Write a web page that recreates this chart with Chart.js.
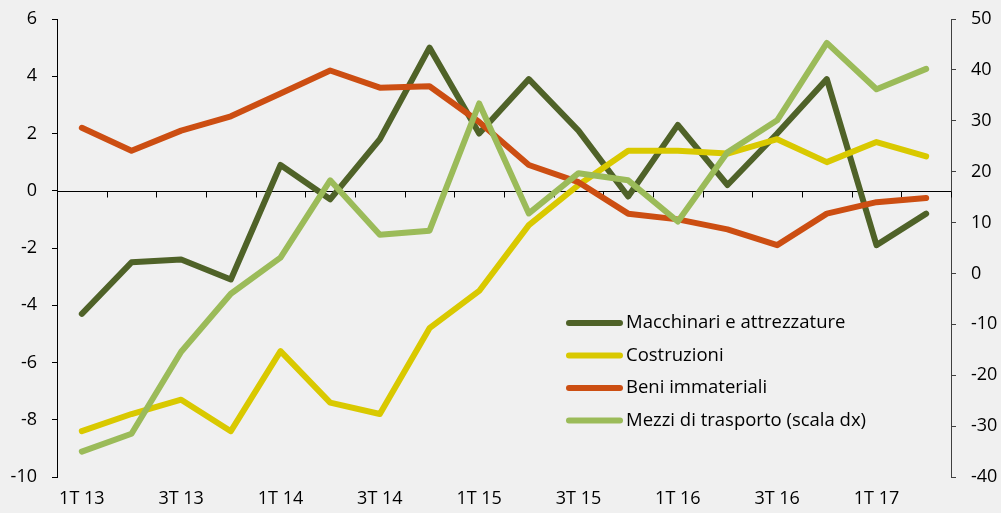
<!DOCTYPE html>
<html>
<head>
<meta charset="utf-8">
<script src="https://cdn.jsdelivr.net/npm/chart.js@4"></script>
<style>
  html, body { margin: 0; padding: 0; background: #f0f0f0; }
  #wrap { width: 1001px; height: 513px; position: relative; }
</style>
</head>
<body>
<div id="wrap"><canvas id="myChart"></canvas></div>
<script>
"use strict";

const labels = ['1T 13','2T 13','3T 13','4T 13','1T 14','2T 14','3T 14','4T 14',
  '1T 15','2T 15','3T 15','4T 15','1T 16','2T 16','3T 16','4T 16','1T 17','2T 17'];

const macchinari = [-4.3, -2.5, -2.4, -3.1, 0.9, -0.3, 1.8, 5.0, 2.0, 3.9, 2.1, -0.2, 2.3, 0.2, 2.0, 3.9, -1.9, -0.8];
const costruzioni = [-8.4, -7.8, -7.3, -8.4, -5.6, -7.4, -7.8, -4.8, -3.5, -1.2, 0.2, 1.4, 1.4, 1.3, 1.8, 1.0, 1.7, 1.2];
const beni = [2.2, 1.4, 2.1, 2.6, 3.4, 4.2, 3.6, 3.65, 2.4, 0.9, 0.3, -0.8, -1.0, -1.35, -1.9, -0.8, -0.4, -0.25];
// right axis
const mezzi = [-35, -31.5, -15.4, -4, 3.1, 18.3, 7.6, 8.4, 33.4, 11.8, 19.7, 18.3, 10.2, 23.8, 30.1, 45.3, 36.2, 40.2];

const FONT = '"Open Sans", Lato, sans-serif';

const ctx = document.getElementById('myChart');

// zero line with the little category ticks, drawn under the lines
const zeroLine = {
  id: 'zeroLine',
  beforeDatasetsDraw(chart) {
    const c = chart.ctx;
    const x = chart.scales.x;
    const y = chart.scales.y;
    const area = chart.chartArea;
    const y0 = Math.round(y.getPixelForValue(0)) + 0.5;
    c.save();
    c.strokeStyle = '#000';
    c.lineWidth = 1;
    c.beginPath();
    c.moveTo(area.left, y0);
    c.lineTo(area.right, y0);
    const step = x.getPixelForValue(1) - x.getPixelForValue(0);
    for (let i = 0; i <= labels.length; i++) {
      const px = Math.round(x.getPixelForValue(i) - step / 2) + 0.5;
      c.moveTo(px, y0);
      c.lineTo(px, y0 + 6);
    }
    c.stroke();
    c.restore();
  }
};

// legend inside the plot
const boxLegend = {
  id: 'boxLegend',
  afterDraw(chart) {
    const c = chart.ctx;
    const sets = chart.data.datasets;
    c.save();
    c.font = '18.5px ' + FONT;
    c.textBaseline = 'middle';
    c.fillStyle = '#000';
    c.lineCap = 'round';
    c.lineWidth = 6;
    sets.forEach((ds, i) => {
      const yy = 323 + i * 32.5;
      c.strokeStyle = ds.borderColor;
      c.beginPath();
      c.moveTo(569, yy);
      c.lineTo(620, yy);
      c.stroke();
      c.fillText(ds.label, 626, yy);
    });
    c.restore();
  }
};

// no extra room for half labels, keep the plot box fixed
const noPad = (s) => { s.paddingTop = 0; s.paddingBottom = 0; };

new Chart(ctx, {
  type: 'line',
  data: {
    labels: labels,
    datasets: [
      { label: 'Macchinari e attrezzature', data: macchinari, borderColor: '#4f6228', yAxisID: 'y', order: 3 },
      { label: 'Costruzioni', data: costruzioni, borderColor: '#d9c900', yAxisID: 'y', order: 2 },
      { label: 'Beni immateriali', data: beni, borderColor: '#cc4e12', yAxisID: 'y', order: 1 },
      { label: 'Mezzi di trasporto (scala dx)', data: mezzi, borderColor: '#9bbb59', yAxisID: 'y1', order: 0 }
    ]
  },
  options: {
    responsive: true,
    maintainAspectRatio: false,
    animation: false,
    layout: { padding: { top: 19, bottom: 0, left: 0, right: 0 } },
    elements: {
      line: { borderWidth: 6, tension: 0, borderJoinStyle: 'round', borderCapStyle: 'round' },
      point: { radius: 0 }
    },
    plugins: {
      legend: { display: false },
      tooltip: { enabled: false }
    },
    scales: {
      x: {
        offset: true,
        grid: { display: false, drawTicks: false },
        border: { display: false },
        ticks: {
          autoSkip: false,
          maxRotation: 0,
          padding: 11,
          color: '#000',
          font: { family: FONT, size: 18 },
          callback: (v, i) => (i % 2 === 0 ? labels[i] : '')
        },
        afterFit: (s) => { s.height = 36; s.paddingLeft = 0; s.paddingRight = 0; }
      },
      y: {
        position: 'left',
        min: -10,
        max: 6,
        ticks: { stepSize: 2, padding: 15, color: '#000', font: { family: FONT, size: 18 } },
        grid: { drawOnChartArea: false, tickLength: 5, color: '#000' },
        border: { color: '#000' },
        afterFit: (s) => { s.width = 57; noPad(s); }
      },
      y1: {
        position: 'right',
        min: -40,
        max: 50,
        ticks: { stepSize: 10, padding: 15, color: '#000', font: { family: FONT, size: 18 } },
        grid: { drawOnChartArea: false, tickLength: 5, color: '#404040' },
        border: { color: '#404040' },
        afterFit: (s) => { s.width = 50; noPad(s); }
      }
    }
  },
  plugins: [zeroLine, boxLegend]
});
</script>
</body>
</html>
